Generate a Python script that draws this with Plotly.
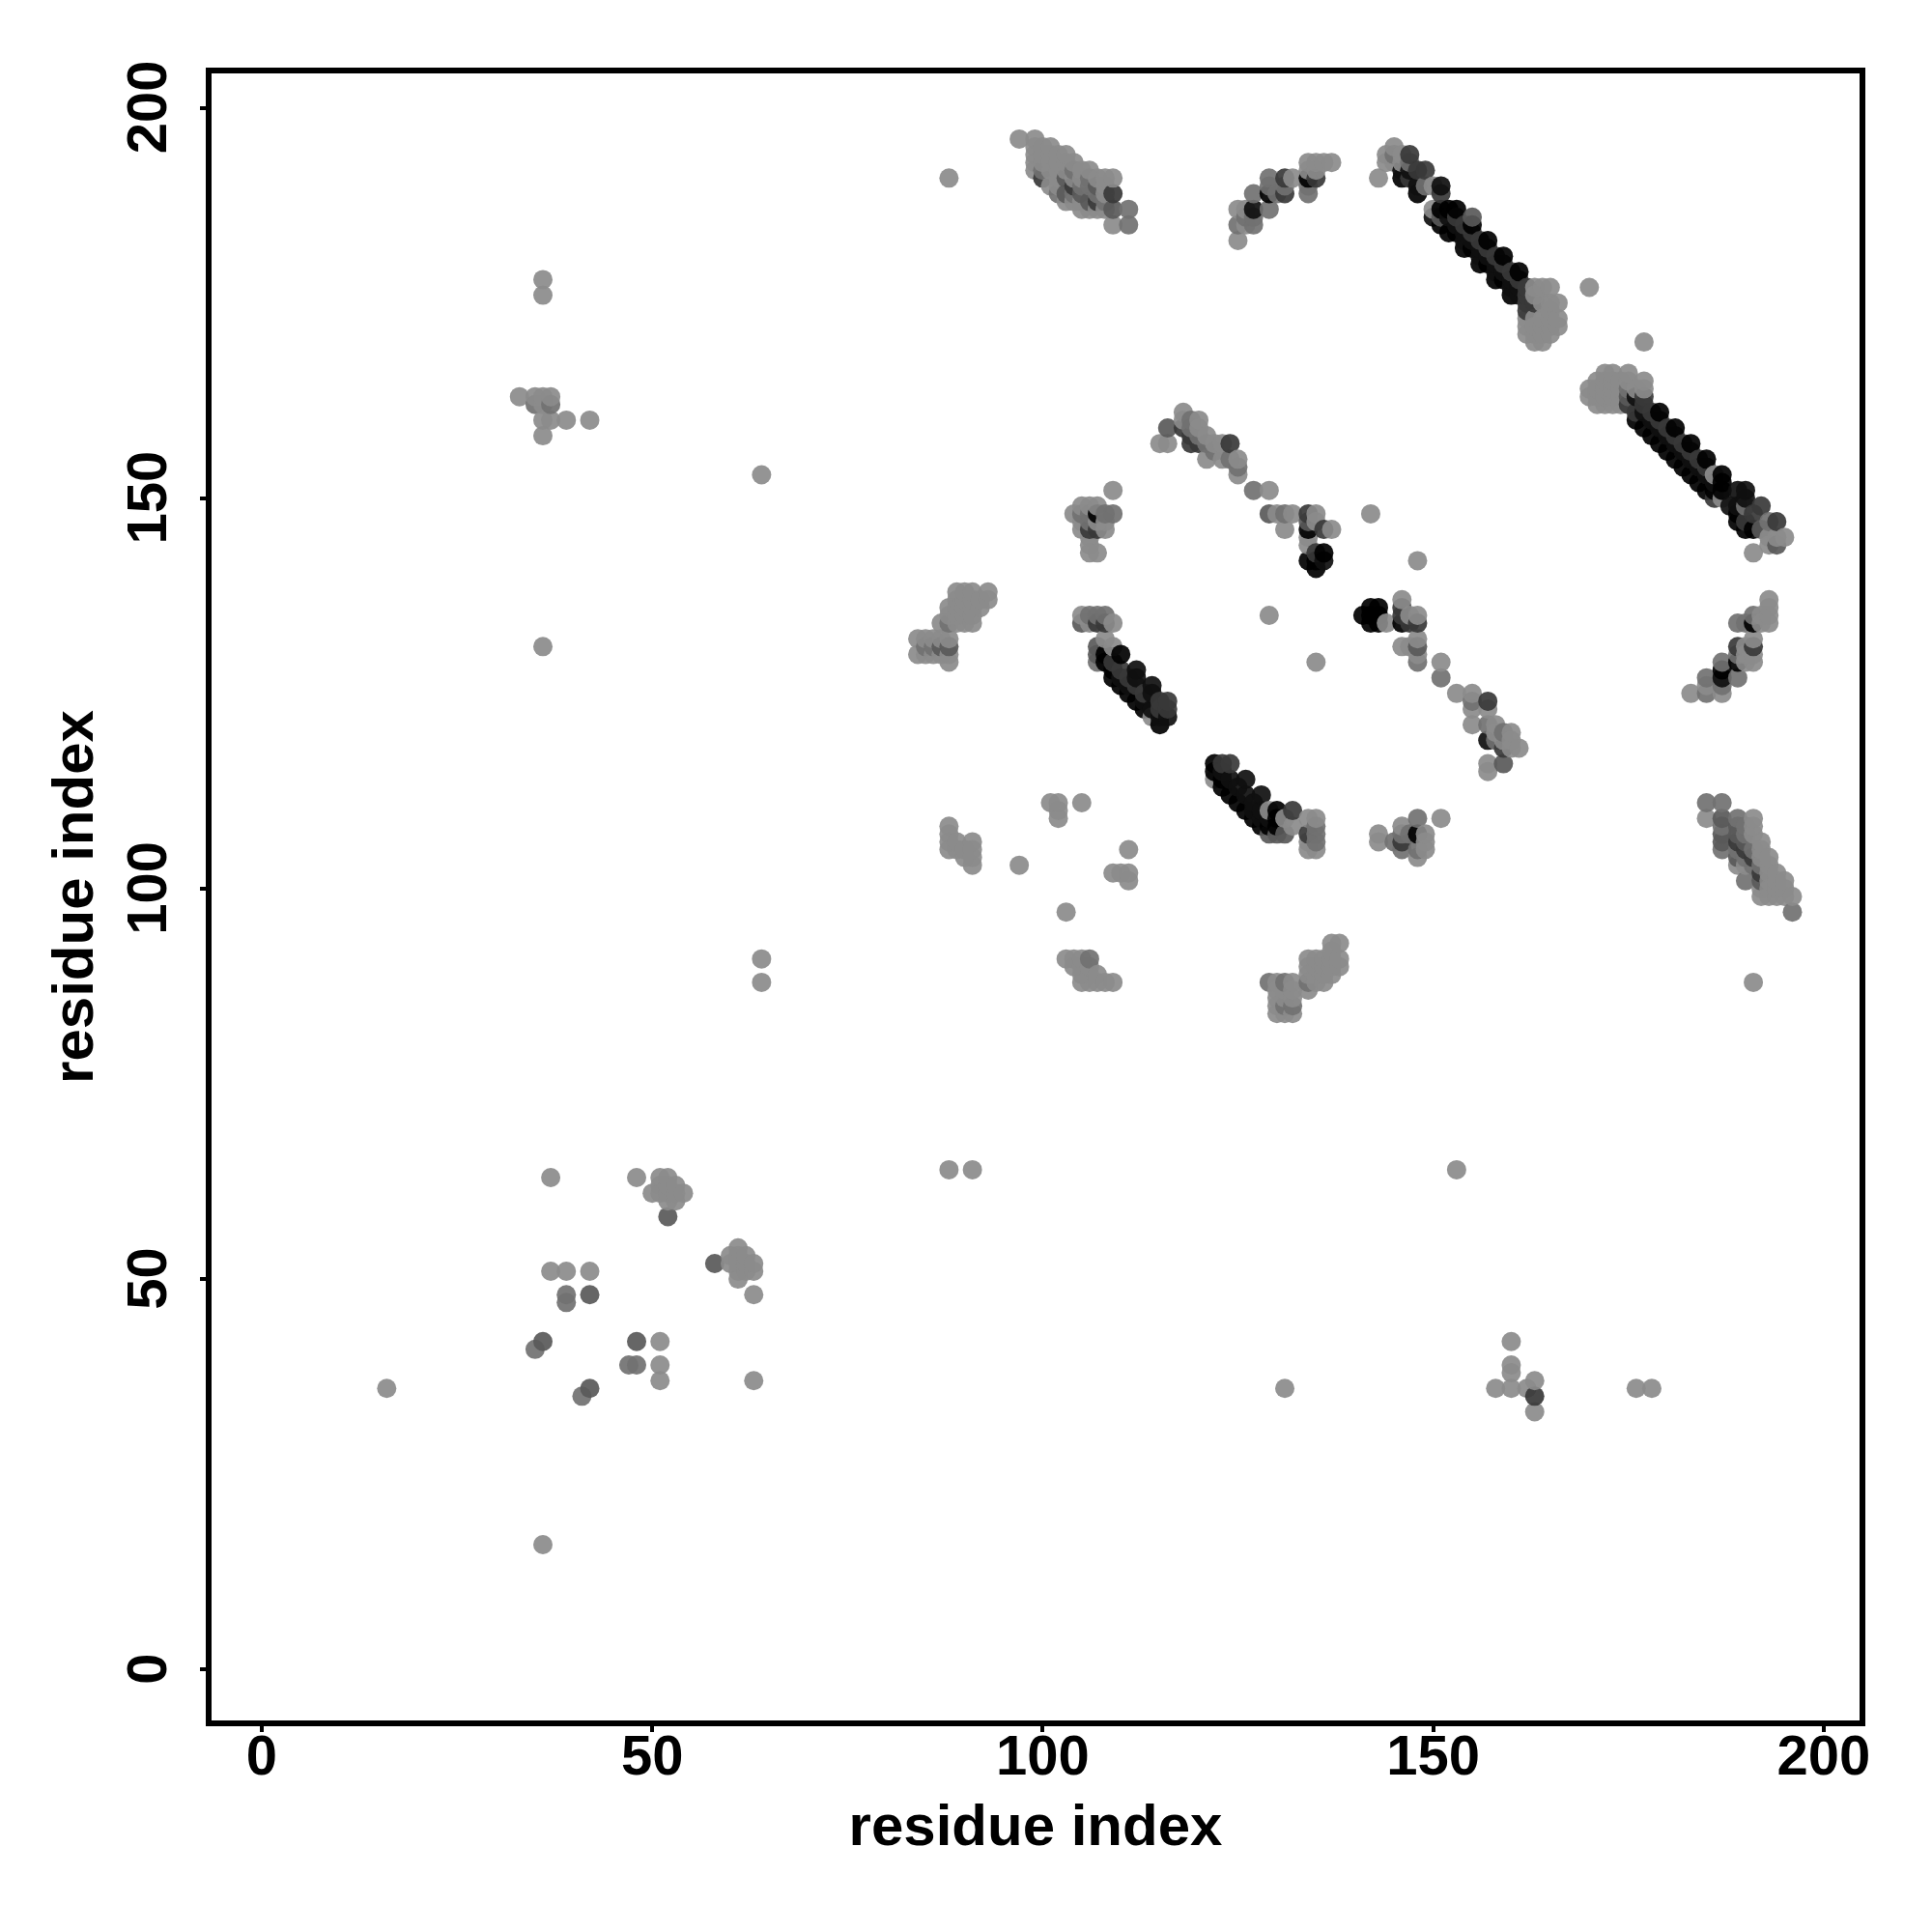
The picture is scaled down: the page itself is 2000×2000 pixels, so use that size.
import plotly.graph_objects as go

title_text = "residue index"
tick_vals = [0, 50, 100, 150, 200]

gray_levels = {"light": 148, "mid": 124, "midd": 102, "dark": 72, "vdark": 34, "black": 6}

light = [
(97,196),(99,196),(99,195),(100,195),(101,195),(99,194),(100,194),(101,194),(102,194),(103,194),(99,193),(100,193),(101,193),(102,193),(103,193),(104,193),
(99,192),(101,192),(102,192),(103,192),(105,192),(106,192),(101,190),(102,190),(102,191),(104,191),(105,191),(107,191),(108,191),(109,191),(103,188),(104,188),(105,188),(108,190),(108,189),
(105,187),(106,187),(107,187),(108,187),(109,185),(88,191),
(125,183),(125,187),(126,187),(126,185),(132,191),(134,193),(135,193),(136,193),(137,193),(134,192),(135,192),
(143,191),(145,195),(144,194),(144,193),(145,193),(146,194),(146,193),
(150,190),(150,187),(186,153),(187,150),(170,177),(177,170),(142,148),(148,142),(191,143),
(170,164),(170,163),(171,165),(171,164),(171,163),(171,162),(172,166),(172,165),(172,164),(172,163),(172,162),(173,166),(173,165),(173,164),(173,163),(173,162),(174,165),(174,164),(174,163),(174,162),(175,166),(175,165),(177,165),(177,164),(176,164),
(193,144),(194,145),(195,145),(193,145),
(162,173),(162,172),(162,171),(163,170),(164,170),(163,173),(163,172),(163,171),(164,173),(164,172),(164,171),(165,173),(165,172),(165,171),(166,172),(166,173),(166,175),(165,177),(164,177),(163,177),(164,175),(165,175),(163,176),(165,174),
(118,161),(120,160),(115,157),(116,157),(118,160),(120,159),(121,158),(121,155),(122,157),(123,157),(123,155),(125,155),(125,153),(129,151),
(130,148),(132,148),(131,146),(135,148),(135,147),(137,146),(134,144),(134,145),
(135,129),(129,135),(109,151),
(105,149),(104,148),(107,149),(106,149),(105,147),(105,146),(108,146),(106,144),(106,145),(106,143),(107,143),(107,147),(108,147),
(84,132),(84,130),(85,132),(86,132),(85,130),(86,130),(85,131),(86,131),(88,132),(88,130),(88,129),(87,132),(87,130),(87,131),(87,134),(88,136),(88,135),(89,137),(89,136),(89,135),(89,134),(90,138),(90,137),(90,136),(90,135),(90,134),(91,138),(91,137),(91,136),(91,135),(91,134),(92,137),(93,138),(93,137),(92,136),(89,138),
(105,135),(105,134),(106,135),(106,134),(109,134),(108,132),(109,131),(114,122),
(144,134),(146,137),(147,135),(148,135),(146,131),(147,131),(148,132),(148,130),(151,129),(153,125),(155,125),(155,123),(155,121),(157,123),(158,121),(158,120),(160,120),(160,118),(161,118),(157,116),(157,115),(159,119),(160,119),
(183,125),(187,125),(190,129),(191,129),(190,131),(191,132),(192,134),(192,135),(193,137),(193,136),(193,135),(193,134),(185,126),(190,130),(191,130),
(91,106),(91,105),(91,104),(91,103),(88,108),(88,107),(88,106),(88,105),(89,106),(89,105),(90,105),(90,104),
(101,111),(102,111),(102,110),(102,109),(105,111),(97,103),(111,105),(109,102),(110,102),(111,102),(111,101),(103,97),
(103,91),(104,91),(105,91),(104,90),(105,90),(106,90),(107,89),(105,88),(106,88),(107,88),(108,88),(109,88),(105,89),(106,89),
(122,114),(131,109),(132,108),(129,110),(134,109),(135,105),(134,105),(134,106),(143,107),(143,106),(146,108),(148,104),(149,107),(149,105),(151,109),(135,109),(149,106),(146,105),
(130,88),(132,88),(130,87),(130,86),(130,85),(130,84),(132,87),(132,86),(132,85),(132,84),(131,87),(131,86),(131,84),(134,91),(135,91),(136,91),(134,90),(134,89),(135,90),(135,89),(136,88),(137,89),(138,90),(138,91),(137,93),(138,93),(137,92),(136,90),(137,90),(135,88),(136,89),(137,91),(134,87),
(185,109),(192,106),(193,104),(193,103),(193,102),(194,102),(194,101),(195,101),(193,101),(192,99),(193,99),(194,99),(195,99),(196,99),(194,100),(195,100),(193,100),(192,100),(191,109),(191,108),(191,107),(192,105),(192,104),(187,107),(187,106),(189,103),(190,103),
(37,63),(48,63),(51,63),(52,63),(53,62),(54,61),(50,61),(51,62),(52,62),(51,61),(52,61),(53,61),(52,60),(53,60),
(61,54),(60,53),(62,53),(61,53),(60,52),(61,52),(62,52),(63,52),(63,51),(61,50),(62,51),(61,51),(63,48),
(37,51),(39,51),(42,51),(51,42),(51,39),(51,37),(63,37),
(16,36),(36,16),(131,36),(160,42),(160,39),(160,38),(158,36),(160,36),(162,36),(163,37),(163,33),(176,36),(178,36),(153,64),(88,64),(91,64),(64,91),(64,88),(64,153),(36,131),(36,178),(36,176),
(33,163),(35,163),(36,163),(37,163),(36,162),(36,160),(37,160),(39,160),(42,160),(36,158),(191,88),
]

mid = [
(100,192),(102,189),(104,192),(105,190),(106,191),(106,190),(107,189),(108,188),(111,187),(111,185),(104,189),
(125,185),(127,185),(127,189),(129,187),(129,191),(130,189),(131,190),(134,189),(134,190),(126,186),(127,186),(129,190),
(145,194),(147,193),(149,190),(175,164),(175,163),(193,147),(154,185),(190,149),
(119,160),(119,159),(120,158),(121,157),(125,154),(124,155),(127,151),(131,148),(134,147),(122,156),
(105,148),(106,148),(108,148),(109,148),(106,147),(107,146),
(88,134),(85,131),(86,131),(107,135),(108,135),(106,135),(115,121),(107,129),
(151,127),(155,124),(157,121),(159,120),(158,119),(148,129),
(185,127),(185,125),(187,129),(187,126),(189,127),(189,130),(189,134),(190,134),(191,135),(187,127),
(135,108),(135,107),(135,106),(145,106),(146,107),(147,107),(148,109),(148,105),(146,105),
(106,91),(129,88),(131,88),(134,88),(131,85),(132,85),
(185,111),(187,111),(187,108),(187,105),(189,109),(189,105),(190,108),(190,107),(190,104),(190,101),(191,105),(191,103),(192,103),(196,97),
(35,41),(36,42),(39,48),(39,47),(47,39),(48,39),(41,35),(35,162),(37,162),
]

midd = [
(103,191),(103,189),(105,189),(106,188),(107,190),(109,187),(116,159),(129,148),(134,147),
(87,131),(88,131),(107,131),(107,130),(105,134),(129,107),(130,107),(131,107),(159,116),(148,131),
(175,163),(187,109),(187,107),(187,106),(189,108),(189,107),(189,104),(190,106),(192,101),
(52,58),(58,52),(42,48),(48,42),(42,36),(36,42),(192,146),(194,144),(134,107),(146,106),(163,35),(135,143),
(155,186),(151,186),
]

dark = [
(100,191),(104,190),(107,188),(109,189),(124,157),(119,157),(118,159),(120,157),(119,158),
(131,191),(131,189),(135,191),(147,194),(148,192),(149,192),(147,191),(146,192),(151,189),
(153,186),(154,185),(155,184),(156,183),(157,182),(158,181),(159,180),(160,179),(161,178),(162,177),(162,176),(162,175),(162,174),(163,175),
(175,162),(176,161),(177,163),(177,162),(178,161),(179,160),(180,159),(181,158),(182,157),(183,156),(184,155),(185,154),(186,150),(192,149),(194,147),(190,147),(191,148),
(134,148),(136,146),(135,143),(106,146),(107,146),(107,134),(108,134),(116,124),(116,123),(115,124),(115,123),(113,125),(111,127),(110,128),(112,126),(109,129),(146,136),(146,135),(147,134),(148,134),
(157,124),(159,118),(189,131),(191,131),(134,107),(146,106),(189,106),(190,105),(191,104),(192,102),(122,116),(124,116),(123,116),(191,131),
(163,35),(132,110),
]

vdark = [
(127,187),(146,192),(148,190),(147,192),(151,190),(150,186),(152,186),(154,184),(156,182),(158,180),(160,178),(153,185),(155,183),(157,181),(159,179),(161,177),(154,183),(156,181),(158,179),(160,177),(161,176),
(176,163),(190,151),(189,149),(189,151),(112,128),(114,126),(116,122),(115,122),(112,127),(113,124),(114,125),(114,123),(111,126),(110,127),(157,119),(187,127),(126,114),(128,112),(123,115),(124,114),(125,113),(127,111),(128,110),(129,109),(126,112),(127,110),(128,109),(146,134),(136,142),(135,141),(177,161),(178,160),(180,158),(182,156),(184,154),(179,159),(181,157),(183,155),(185,153),(186,152),(188,149),(190,150),
]

black = [
(146,191),(148,189),(129,189),(134,191),(134,146),(107,148),(110,130),(108,130),(108,129),(109,127),(111,125),(113,123),(109,128),(110,126),(112,124),(115,121),
(151,187),(152,187),(153,187),(155,185),(157,183),(159,181),(161,179),(152,184),(154,182),(156,180),(158,178),(160,176),(153,184),(155,182),(157,180),(159,178),(151,185),
(176,160),(178,158),(180,156),(182,154),(184,152),(177,159),(179,157),(181,155),(183,153),(185,151),(179,161),(181,159),(183,157),(185,155),(187,153),(187,152),(187,151),(186,151),(189,148),(191,146),(190,146),(189,147),
(134,142),(135,142),(136,143),(135,141),(141,135),(142,136),(143,136),(142,135),(142,134),(143,134),(143,135),(122,115),(123,113),(125,111),(127,109),(130,110),(130,109),(130,108),(123,114),(124,112),(126,110),(128,108),(129,108),
(148,107),(189,129),(191,134),(187,128),(146,134),(122,116),
]

ALPHA = 0.92
merged = {}
for name, pts in [("light", light), ("mid", mid), ("midd", midd), ("dark", dark), ("vdark", vdark), ("black", black)]:
    g = max(0, round((gray_levels[name] - (1 - ALPHA) * 255) / ALPHA))
    for p in pts:
        merged[p] = g

order = sorted(merged)
xs = [p[0] for p in order]
ys = [p[1] for p in order]
cols = [f"rgba({merged[p]},{merged[p]},{merged[p]},{ALPHA})" for p in order]

fig = go.Figure(go.Scatter(
    x=xs, y=ys, mode="markers",
    marker=dict(size=20, color=cols, line=dict(width=0)),
    hoverinfo="skip",
))

font = dict(family="Liberation Sans", size=58, color="black", weight="bold")
title_font = dict(family="Liberation Sans", size=60, color="black", weight="bold")
axis = dict(
    tickvals=tick_vals,
    tickfont=font, ticks="outside", ticklen=6, tickwidth=4, tickcolor="black",
    showline=True, linewidth=6, linecolor="black", mirror=True,
    showgrid=False, zeroline=False,
)
fig.update_layout(
    width=1984, height=1984,
    margin=dict(l=211, r=67, t=68, b=211),
    paper_bgcolor="white", plot_bgcolor="white", showlegend=False,
    xaxis=dict(range=[-6.43, 204.6], ticklabelstandoff=-26, ticktext=[str(t) for t in tick_vals],
               title=dict(text=title_text, font=title_font, standoff=22), **axis),
    yaxis=dict(range=[-6.52, 204.4], tickangle=-90, ticklabelstandoff=12,
               ticktext=[str(t) + "\u00a0" for t in tick_vals],
               title=dict(text=title_text, font=title_font, standoff=5), **axis),
)
fig.write_html("out.html")
